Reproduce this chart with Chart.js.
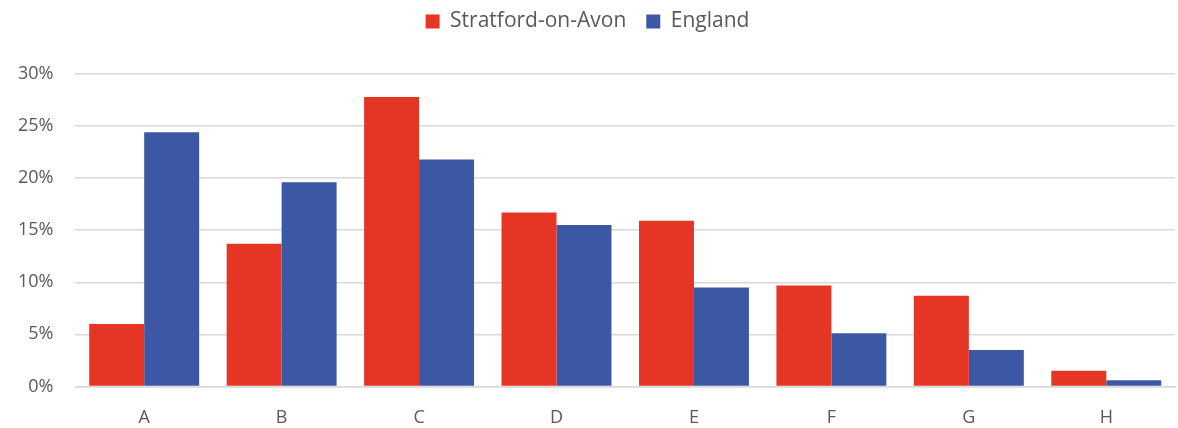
<!DOCTYPE html>
<html>
<head>
<meta charset="utf-8">
<script src="https://cdn.jsdelivr.net/npm/chart.js@4/dist/chart.umd.min.js"></script>
<style>
  html, body { margin: 0; padding: 0; background: #fff; }
  #wrap { width: 1178px; height: 428px; position: relative; }
</style>
</head>
<body>
<div id="wrap"><canvas id="chart"></canvas></div>
<script>
'use strict';

const CATEGORIES = ['A', 'B', 'C', 'D', 'E', 'F', 'G', 'H'];
const STRATFORD  = [6.0, 13.7, 27.8, 16.7, 15.9, 9.7, 8.7, 1.5];
const ENGLAND    = [24.4, 19.6, 21.8, 15.5, 9.5, 5.1, 3.5, 0.6];

const RED  = '#e53525';
const BLUE = '#3c58a4';
const TEXT = '#595959';
const FONT = "'Open Sans', 'Noto Sans', sans-serif";

// extra gap under the legend
const legendGap = {
  id: 'legendGap',
  beforeInit(chart) {
    const fit = chart.legend.fit;
    chart.legend.fit = function () {
      fit.bind(chart.legend)();
      this.height += 32;
    };
  }
};

new Chart(document.getElementById('chart'), {
  type: 'bar',
  data: {
    labels: CATEGORIES,
    datasets: [
      { label: 'Stratford-on-Avon', data: STRATFORD, backgroundColor: RED, borderWidth: 0 },
      { label: 'England', data: ENGLAND, backgroundColor: BLUE, borderWidth: 0 },
    ]
  },
  options: {
    responsive: true,
    maintainAspectRatio: false,
    animation: false,
    layout: { padding: { left: 0, right: 3, top: -9, bottom: 2 } },
    datasets: { bar: { categoryPercentage: 0.8, barPercentage: 1.0 } },
    plugins: {
      legend: {
        position: 'top',
        labels: {
          color: TEXT, font: { family: FONT, size: 21 },
          boxWidth: 14, boxHeight: 14, padding: 20
        }
      },
      tooltip: { enabled: false }
    },
    scales: {
      x: {
        grid: { display: false },
        border: { display: true, color: '#d9d9d9', width: 1.5 },
        ticks: { color: TEXT, font: { family: FONT, size: 18 }, padding: 13 },
        afterFit(scale) { scale.height -= 16; }
      },
      y: {
        min: 0, max: 30,
        grid: { color: '#d9d9d9', lineWidth: 1.5, drawTicks: false },
        border: { display: false },
        ticks: {
          stepSize: 5, color: TEXT, padding: 22,
          font: { family: FONT, size: 18 },
          callback: v => v + '%'
        },
        afterFit(scale) { scale.width -= 4; }
      }
    }
  },
  plugins: [legendGap]
});
</script>
</body>
</html>
